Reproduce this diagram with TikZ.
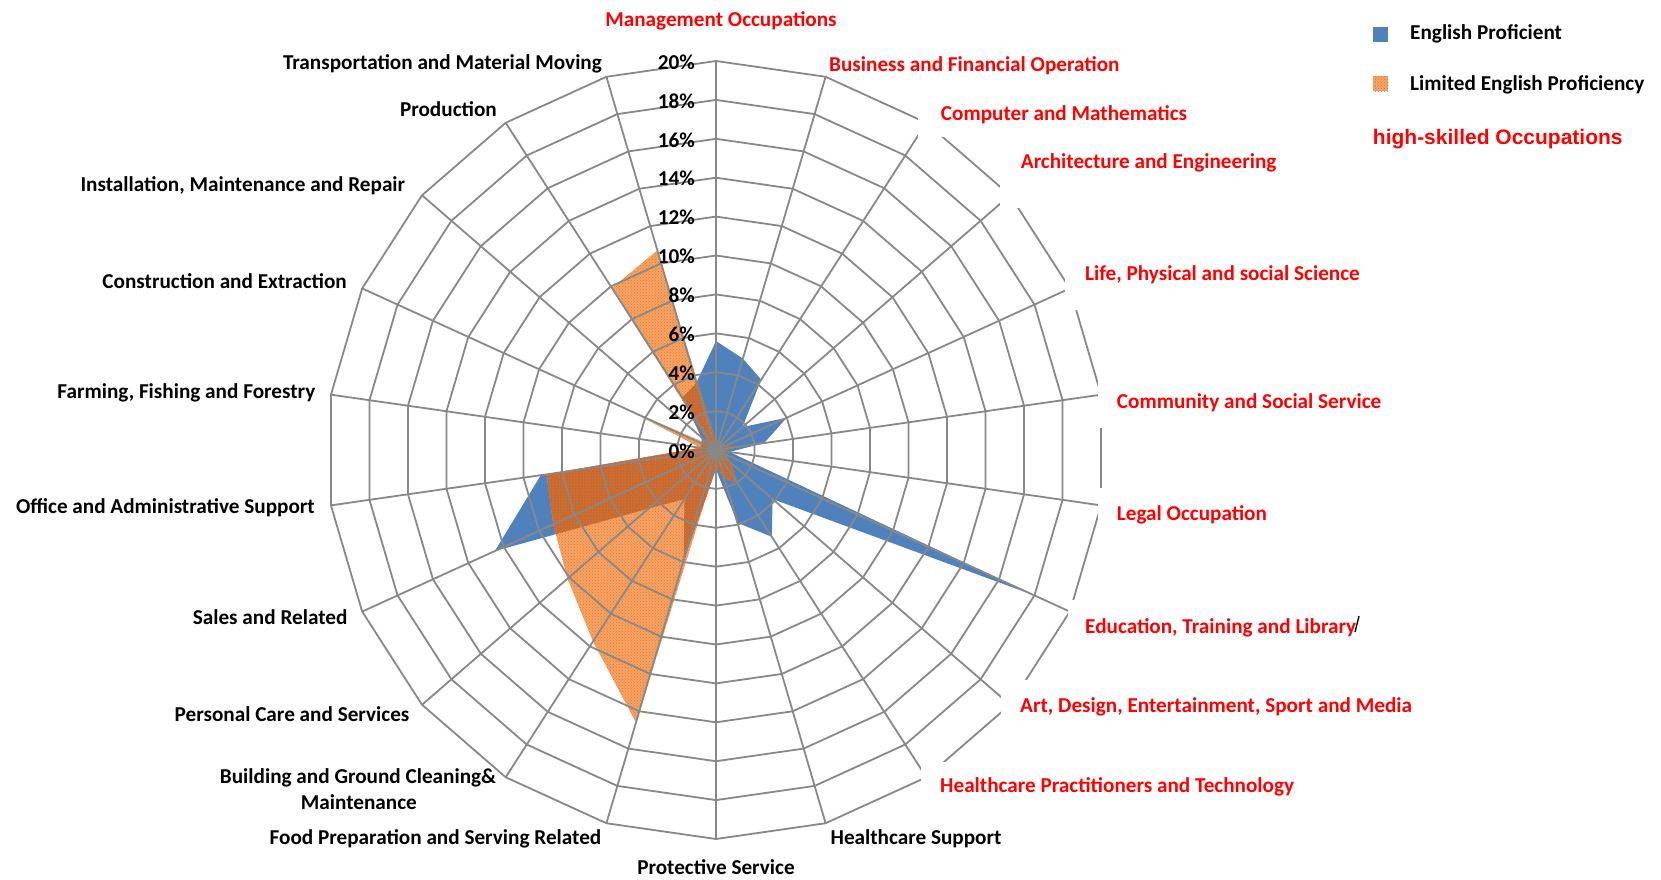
\documentclass[tikz,border=0pt]{standalone}
\usepackage{fontspec}
\setmainfont{Carlito}
\newfontfamily\arialfont{Liberation Sans}
\usetikzlibrary{patterns}
\definecolor{gridc}{HTML}{888888}
\definecolor{epc}{HTML}{4F81BD}
\definecolor{lepc}{HTML}{F5A365}
\definecolor{lepd}{HTML}{E8762A}
\definecolor{lepo}{HTML}{C46A33}
\definecolor{redc}{HTML}{FF0000}
\begin{document}
\begin{tikzpicture}[x=1pt,y=-1pt,
  grid/.style={draw=gridc, line width=1.8pt, line join=round},
  lbl/.style={font=\fontsize{21.2}{25}\selectfont\bfseries, inner sep=0pt, text=black},
  hlbl/.style={lbl, text=redc},
  pct/.style={font=\fontsize{21.2}{25}\selectfont\bfseries, inner sep=0pt, anchor=east},
  lepfill/.style={fill=lepc},
  leppat/.style={pattern=crosshatch dots, pattern color=lepd},
  cover/.style={fill=white, draw=none}]
\useasboundingbox (0,0) rectangle (1661,879);
\fill[white] (0,0) rectangle (1661,879);
\def\cx{716}\def\cy{450}\def\u{19.45}
\coordinate (O) at (\cx,\cy);
% data points
\foreach \v [count=\k from 0] in {5.6,4.9,4.3,1.8,4.0,2.5,0.7,18.0,3.85,5.3,3.9,1.0,5.9,3.0,4.6,12.5,9.1,0.8,0.8,1.0,3.2,3.6}{
  \coordinate (ep\k) at ({\cx+\u*\v*sin(\k*360/22)},{\cy-\u*\v*cos(\k*360/22)});}
\foreach \v [count=\k from 0] in {0.4,0.6,0.3,0.3,0.5,1.3,0.3,0.5,1.0,2.0,1.5,0.8,14.6,11.7,10.1,9.2,8.8,0.8,5.2,0.4,9.9,10.7}{
  \coordinate (lep\k) at ({\cx+\u*\v*sin(\k*360/22)},{\cy-\u*\v*cos(\k*360/22)});}
\fill[epc] (ep0) \foreach \k in {1,...,21}{ -- (ep\k)} -- cycle;
\fill[lepfill] (lep0) \foreach \k in {1,...,21}{ -- (lep\k)} -- cycle;
\fill[leppat] (lep0) \foreach \k in {1,...,21}{ -- (lep\k)} -- cycle;
\begin{scope}
  \clip (ep0) \foreach \k in {1,...,21}{ -- (ep\k)} -- cycle;
  \fill[lepo] (lep0) \foreach \k in {1,...,21}{ -- (lep\k)} -- cycle;
  \fill[pattern=crosshatch dots, pattern color=lepd] (lep0) \foreach \k in {1,...,21}{ -- (lep\k)} -- cycle;
\end{scope}
% grid
\foreach \p in {2,4,...,20}{
  \draw[grid] ({\cx},{\cy-\u*\p}) \foreach \k in {1,...,21}{ -- ({\cx+\u*\p*sin(\k*360/22)},{\cy-\u*\p*cos(\k*360/22)})} -- cycle;}
\foreach \k in {0,...,21}{
  \coordinate (s\k) at ({\cx+389*sin(\k*360/22)},{\cy-389*cos(\k*360/22)});
  \draw[grid] (O) -- (s\k);}
% covers
\fill[cover] (918,95) rectangle (1192,137);
\fill[cover] (1000,140) rectangle (1280,208);
\fill[cover] (1065,240) rectangle (1365,310);
\fill[cover] (1098,377) rectangle (1385,428);
\fill[cover] (1098,488) rectangle (1270,519);
\fill[cover] (1068,600) rectangle (1362,640);
\fill[cover] (1001,680) rectangle (1420,720);
\fill[cover] (921,762) rectangle (1300,795);
% percent labels
\foreach \p in {0,2,...,20}{
  \node[pct] (p\p) at (695,{\cy-\u*\p+1}) {\p\%};}
% category labels
\node[hlbl, anchor=base] (c0) at (721,26.7) {Management Occupations};
\node[hlbl, anchor=base west] (c1) at (829,71.7) {Business and Financial Operation};
\node[hlbl, anchor=base west] (c2) at (940.7,120.7) {Computer and Mathematics};
\node[hlbl, anchor=base west] (c3) at (1020.7,168.3) {Architecture and Engineering};
\node[hlbl, anchor=base west] (c4) at (1085,280.7) {Life, Physical and social Science};
\node[hlbl, anchor=base west] (c5) at (1116.7,408.3) {Community and Social Service};
\node[hlbl, anchor=base west] (c6) at (1116.7,520.7) {Legal Occupation};
\node[hlbl, anchor=base west] (c7) at (1085,633.3) {Education, Training and Library};
\draw[black, line width=1.3pt] (1359,616) -- (1355,632);
\node[hlbl, anchor=base west] (c8) at (1020,712.3) {Art, Design, Entertainment, Sport and Media};
\node[hlbl, anchor=base west] (c9) at (940,792.3) {Healthcare Practitioners and Technology};
\node[lbl, anchor=base east] (c10) at (1001.7,844) {Healthcare Support};
\node[lbl, anchor=base] (c11) at (716,874) {Protective Service};
\node[lbl, anchor=base east] (c12) at (601.5,844) {Food Preparation and Serving Related};
\node[lbl, anchor=base] (c13a) at (358,783.3) {Building and Ground Cleaning\&};
\node[lbl, anchor=base] (c13b) at (358.8,809.3) {Maintenance};
\node[lbl, anchor=base east] (c14) at (409.6,721.7) {Personal Care and Services};
\node[lbl, anchor=base east] (c15) at (347.6,624) {Sales and Related};
\node[lbl, anchor=base east] (c16) at (315,513.3) {Office and Administrative Support};
\node[lbl, anchor=base east] (c17) at (315.5,398.3) {Farming, Fishing and Forestry};
\node[lbl, anchor=base east] (c18) at (347,288.3) {Construction and Extraction};
\node[lbl, anchor=base east] (c19) at (405.3,191.7) {Installation, Maintenance and Repair};
\node[lbl, anchor=base east] (c20) at (497,116) {Production};
\node[lbl, anchor=base east] (c21) at (602,69.3) {Transportation and Material Moving};
% legend
\fill[epc] (1373,27) rectangle (1388,42);
\fill[lepfill] (1373,76) rectangle (1388,91);
\fill[leppat] (1373,76) rectangle (1388,91);
\node[lbl, anchor=base west] (l1) at (1410,39) {English Proficient};
\node[lbl, anchor=base west] (l2) at (1410,90.7) {Limited English Proficiency};
\node[anchor=base west, inner sep=0pt, text=redc, font=\arialfont\fontsize{21}{25}\selectfont\bfseries] (l3) at (1372.7,144) {high-skilled Occupations};
\end{tikzpicture}
\end{document}
